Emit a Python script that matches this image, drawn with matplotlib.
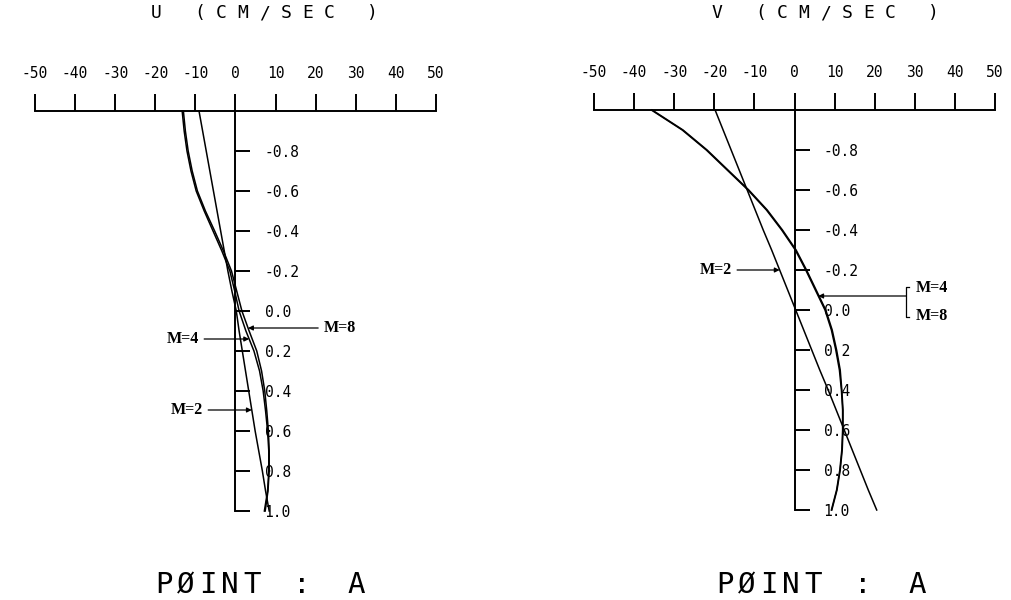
import numpy as np
import matplotlib.pyplot as plt

plt.rcParams['axes.unicode_minus'] = False

# depth coordinate (z) at which profiles were read
z = [-1.0, -0.9, -0.8, -0.7, -0.6, -0.5, -0.4, -0.3, -0.2, -0.1, 0.0,
     0.1, 0.2, 0.3, 0.4, 0.5, 0.6, 0.7, 0.8, 0.9, 1.0]

# U (cm/sec), point A
u_m2 = [-9.1, -8.2, -7.3, -6.4, -5.5, -4.6, -3.7, -2.8, -1.9, -0.9, 0.2,
        0.9, 1.7, 2.5, 3.3, 4.1, 4.9, 5.8, 6.7, 7.5, 8.4]
u_m4 = [-13.3, -12.8, -12.1, -11.1, -9.8, -7.8, -5.6, -3.4, -1.4, -0.2, 0.9,
        2.6, 4.6, 6.0, 6.9, 7.5, 8.0, 8.3, 8.3, 8.0, 7.2]
u_m8 = [-13.0, -12.5, -11.8, -10.8, -9.5, -7.5, -5.2, -3.0, -1.0, 0.3, 1.6,
        3.4, 5.3, 6.5, 7.3, 7.8, 8.2, 8.4, 8.4, 8.1, 7.4]

# V (cm/sec), point A
v_m2 = [-19.8, -17.8, -15.8, -13.8, -11.8, -9.8, -7.8, -5.7, -3.7, -1.7, 0.3,
        2.3, 4.3, 6.3, 8.4, 10.4, 12.4, 14.4, 16.4, 18.4, 20.5]
v_m4 = [-35.7, -28.0, -22.0, -16.8, -11.6, -7.0, -3.2, 0.2, 2.8, 5.2, 7.6,
        9.2, 10.3, 11.2, 11.7, 12.0, 12.0, 11.8, 11.3, 10.5, 9.2]
v_m8 = [-35.5, -27.8, -21.8, -16.6, -11.4, -6.8, -3.0, 0.4, 3.0, 5.4, 7.8,
        9.4, 10.5, 11.4, 11.8, 12.1, 12.1, 11.9, 11.4, 10.6, 9.3]

x_ticks = [-50, -40, -30, -20, -10, 0, 10, 20, 30, 40, 50]
z_ticks = [-0.8, -0.6, -0.4, -0.2, 0.0, 0.2, 0.4, 0.6, 0.8, 1.0]
z_labels = ['-0.8', '-0.6', '-0.4', '-0.2', '0.0', '0.2', '0.4', '0.6', '0.8', '1.0']

W, H = 1012, 600
MONO = 'DejaVu Sans Mono'
fig = plt.figure(figsize=(W / 100, H / 100), dpi=100)


def spaced(x, y, s, pitch, size):
    # plotter style lettering: one glyph per cell
    for i, ch in enumerate(s):
        if ch != ' ':
            fig.text((x + i * pitch) / W, 1 - y / H, ch, ha='center', va='baseline',
                     fontsize=size, family=MONO)


def profile_axes(x0, y0):
    ax = fig.add_axes([x0 / W, 1 - (y0 + 400) / H, 401 / W, 400 / H])
    ax.set_xlim(-50, 50)
    ax.set_ylim(1.0, -1.0)
    ax.patch.set_visible(False)
    ax.spines['left'].set_visible(False)
    ax.spines['bottom'].set_visible(False)
    ax.spines['right'].set_position(('data', 0))
    ax.spines['top'].set_linewidth(1.4)
    ax.spines['right'].set_linewidth(1.4)
    ax.xaxis.set_ticks_position('top')
    ax.yaxis.set_ticks_position('right')
    ax.set_xticks(x_ticks)
    ax.set_xticklabels([str(t) for t in x_ticks])
    ax.set_yticks(z_ticks)
    ax.set_yticklabels(z_labels)
    ax.tick_params(axis='x', direction='out', length=12.5, width=1.4, pad=9, labelsize=10.5)
    ax.tick_params(axis='y', direction='out', length=11, width=1.4, pad=10, labelsize=10.5)
    for lab in ax.get_xticklabels() + ax.get_yticklabels():
        lab.set_family(MONO)
    return ax


arrow = dict(arrowstyle='-|>', lw=0.9, color='k', mutation_scale=7, shrinkA=2, shrinkB=0)
lab_font = dict(family='Liberation Serif', fontweight='bold', fontsize=11.5, va='center')

# ---- U panel
ax1 = profile_axes(35, 111)
for u in (u_m2, u_m4, u_m8):
    ax1.plot(u, z, color='k', lw=1.1, clip_on=False)

ax1.annotate('M=8', xy=(np.interp(0.085, z, u_m8), 0.085), xytext=(22, 0.085),
             ha='left', arrowprops=arrow, **lab_font)
ax1.annotate('M=4', xy=(np.interp(0.14, z, u_m4), 0.14), xytext=(-9.2, 0.14),
             ha='right', arrowprops=arrow, **lab_font)
ax1.annotate('M=2', xy=(np.interp(0.495, z, u_m2), 0.495), xytext=(-8.2, 0.495),
             ha='right', arrowprops=arrow, **lab_font)

# ---- V panel
ax2 = profile_axes(594, 110)
for v in (v_m2, v_m4, v_m8):
    ax2.plot(v, z, color='k', lw=1.1, clip_on=False)

ax2.annotate('M=2', xy=(np.interp(-0.2, z, v_m2), -0.2), xytext=(-15.7, -0.2),
             ha='right', arrowprops=arrow, **lab_font)
ax2.annotate('', xy=(np.interp(-0.07, z, v_m4), -0.07), xytext=(27.8, -0.07),
             arrowprops=dict(arrow, shrinkA=0))
ax2.plot([28.6, 27.8, 27.8, 28.6], [-0.115, -0.115, 0.035, 0.035], color='k', lw=0.9,
         clip_on=False)
ax2.text(30.3, -0.11, 'M=4', ha='left', **lab_font)
ax2.text(30.3, 0.03, 'M=8', ha='left', **lab_font)

# ---- titles and point label
for dx, name in ((0, 'U'), (561, 'V')):
    spaced(156 + dx, 18, name, 21.5, 13)
    spaced(200 + dx, 18, '(CM/SEC )', 21.5, 13)
    spaced(164 + dx, 593, 'P\u00d8INT', 22, 21)
    spaced(302 + dx, 593, ':', 22, 21)
    spaced(356 + dx, 593, 'A', 22, 21)

fig.savefig('out.png', dpi=100)
